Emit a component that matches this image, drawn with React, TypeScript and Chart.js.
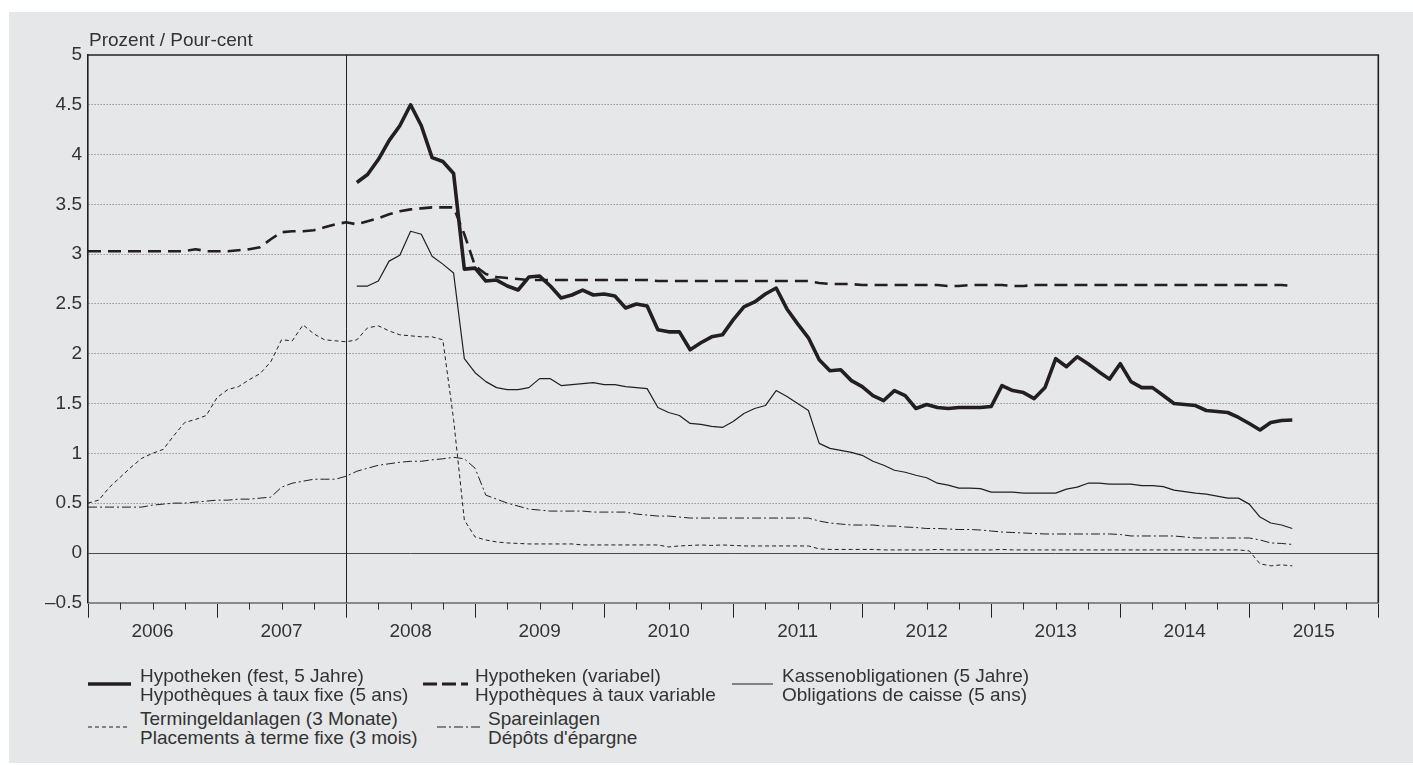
import React, { useEffect, useRef } from 'react';
import { Chart, registerables } from 'chart.js';

Chart.register(...registerables);

// ---- data (monthly, month index 0 = Jan 2006) ----
const firstYear = 2006;
const yearLabels = ['2006', '2007', '2008', '2009', '2010', '2011', '2012', '2013', '2014', '2015'];
const yTickValues = [-0.5, 0, 0.5, 1, 1.5, 2, 2.5, 3, 3.5, 4, 4.5, 5];

const festStart = 25; // Feb 2008
const fest = [
  3.72, 3.80, 3.95, 4.14, 4.29,
  4.50, 4.29, 3.97, 3.93, 3.81, 2.85, 2.86, 2.73, 2.74, 2.68,
  2.64, 2.77, 2.78, 2.68, 2.56, 2.59, 2.64, 2.59, 2.60, 2.58,
  2.46, 2.50, 2.48, 2.24, 2.22, 2.22, 2.04, 2.11, 2.17, 2.19,
  2.34, 2.47, 2.52, 2.60, 2.66, 2.45, 2.30, 2.16, 1.94, 1.83,
  1.84, 1.73, 1.67, 1.58, 1.53, 1.63, 1.58, 1.45, 1.49, 1.46,
  1.45, 1.46, 1.46, 1.46, 1.47, 1.68, 1.63, 1.61, 1.55, 1.66,
  1.95, 1.87, 1.97, 1.90, 1.82, 1.745, 1.90, 1.72, 1.66, 1.66,
  1.58, 1.50, 1.49, 1.48, 1.43, 1.42, 1.41, 1.36, 1.30, 1.235,
  1.31, 1.33, 1.335,
];

const variabelStart = 0;
const variabel = [
  3.03, 3.03, 3.03, 3.03, 3.03, 3.03, 3.03, 3.03, 3.03, 3.03,
  3.05, 3.03, 3.03, 3.03, 3.04, 3.05, 3.07, 3.15, 3.22, 3.23,
  3.23, 3.24, 3.27, 3.30, 3.32, 3.30, 3.33, 3.36, 3.40, 3.43,
  3.45, 3.46, 3.47, 3.47, 3.47, 3.20, 2.88, 2.80, 2.77, 2.76,
  2.75, 2.74, 2.74, 2.74, 2.74, 2.74, 2.74, 2.74, 2.74, 2.74,
  2.74, 2.74, 2.74, 2.73, 2.73, 2.73, 2.73, 2.73, 2.73, 2.73,
  2.73, 2.73, 2.73, 2.73, 2.73, 2.73, 2.73, 2.73, 2.71, 2.70,
  2.70, 2.70, 2.69, 2.69, 2.69, 2.69, 2.69, 2.69, 2.69, 2.69,
  2.68, 2.68, 2.69, 2.69, 2.69, 2.69, 2.68, 2.68, 2.69, 2.69,
  2.69, 2.69, 2.69, 2.69, 2.69, 2.69, 2.69, 2.69, 2.69, 2.69,
  2.69, 2.69, 2.69, 2.69, 2.69, 2.69, 2.69, 2.69, 2.69, 2.69,
  2.69, 2.69, 2.68,
];

const kassenStart = 25;
const kassen = [
  2.68, 2.68, 2.73, 2.93, 2.99,
  3.23, 3.20, 2.98, 2.90, 2.81, 1.95, 1.81, 1.72, 1.66, 1.64,
  1.64, 1.66, 1.75, 1.75, 1.68, 1.69, 1.70, 1.71, 1.69, 1.69,
  1.67, 1.66, 1.65, 1.46, 1.41, 1.38, 1.30, 1.29, 1.27, 1.26,
  1.32, 1.40, 1.45, 1.48, 1.63, 1.57, 1.50, 1.43, 1.10, 1.05,
  1.03, 1.01, 0.98, 0.92, 0.88, 0.83, 0.81, 0.78, 0.755, 0.70,
  0.68, 0.65, 0.65, 0.645, 0.61, 0.61, 0.61, 0.60, 0.60, 0.60,
  0.60, 0.64, 0.66, 0.70, 0.70, 0.69, 0.69, 0.69, 0.675, 0.675,
  0.665, 0.63, 0.615, 0.60, 0.59, 0.57, 0.55, 0.55, 0.49, 0.36,
  0.30, 0.28, 0.245,
];

const terminStart = 0;
const termin = [
  0.50, 0.53, 0.66, 0.76, 0.86, 0.95, 1.00, 1.04, 1.18, 1.31,
  1.34, 1.38, 1.56, 1.64, 1.67, 1.74, 1.80, 1.92, 2.14, 2.13,
  2.29, 2.20, 2.14, 2.13, 2.12, 2.14, 2.26, 2.28, 2.23, 2.19,
  2.18, 2.17, 2.17, 2.14, 1.34, 0.33, 0.16, 0.13, 0.11, 0.10,
  0.095, 0.09, 0.09, 0.09, 0.09, 0.09, 0.08, 0.08, 0.08, 0.08,
  0.08, 0.08, 0.08, 0.08, 0.06, 0.07, 0.075, 0.08, 0.075, 0.08,
  0.075, 0.07, 0.07, 0.07, 0.07, 0.07, 0.07, 0.07, 0.04, 0.035,
  0.035, 0.035, 0.035, 0.035, 0.03, 0.03, 0.03, 0.03, 0.03, 0.035,
  0.03, 0.03, 0.03, 0.03, 0.03, 0.035, 0.03, 0.03, 0.03, 0.03,
  0.03, 0.03, 0.03, 0.03, 0.03, 0.03, 0.03, 0.03, 0.03, 0.03,
  0.03, 0.03, 0.03, 0.03, 0.03, 0.03, 0.03, 0.03, 0.02, -0.11,
  -0.13, -0.12, -0.13,
];

const spareStart = 0;
const spare = [
  0.46, 0.46, 0.46, 0.46, 0.46, 0.46, 0.48, 0.49, 0.50, 0.50,
  0.51, 0.52, 0.53, 0.53, 0.54, 0.54, 0.55, 0.56, 0.66, 0.70,
  0.72, 0.74, 0.74, 0.74, 0.77, 0.82, 0.85, 0.88, 0.895, 0.91,
  0.92, 0.92, 0.935, 0.945, 0.96, 0.945, 0.85, 0.58, 0.54, 0.50,
  0.47, 0.44, 0.43, 0.42, 0.42, 0.42, 0.42, 0.41, 0.41, 0.41,
  0.41, 0.39, 0.38, 0.37, 0.37, 0.36, 0.35, 0.35, 0.35, 0.35,
  0.35, 0.35, 0.35, 0.35, 0.35, 0.35, 0.35, 0.35, 0.32, 0.30,
  0.29, 0.28, 0.28, 0.28, 0.27, 0.27, 0.26, 0.255, 0.245, 0.245,
  0.24, 0.235, 0.235, 0.23, 0.22, 0.21, 0.205, 0.20, 0.195, 0.19,
  0.19, 0.19, 0.19, 0.19, 0.19, 0.19, 0.185, 0.17, 0.17, 0.17,
  0.17, 0.17, 0.16, 0.15, 0.15, 0.15, 0.15, 0.15, 0.15, 0.13,
  0.10, 0.095, 0.085,
];

const seriesNames = [
  ['Hypotheken (fest, 5 Jahre)', 'Hypothèques à taux fixe (5 ans)'],
  ['Hypotheken (variabel)', 'Hypothèques à taux variable'],
  ['Kassenobligationen (5 Jahre)', 'Obligations de caisse (5 ans)'],
  ['Termingeldanlagen (3 Monate)', 'Placements à terme fixe (3 mois)'],
  ['Spareinlagen', "Dépôts d'épargne"],
];
const axisTitle = 'Prozent / Pour-cent';

// ---- styling ----
const INK = '#231f20';
const TEXT = '#333333';
const PANEL = '#e6e7e9';
const FONT = '"Liberation Sans", Arial, Helvetica, sans-serif';
const FONT_SIZE = 19;

const toPoints = (start: number, vals: number[]) => vals.map((v, i) => ({ x: start + i, y: v }));

const styles = [
  { width: 3.6, dash: [] as number[] },
  { width: 2.6, dash: [13, 7] },
  { width: 1.2, dash: [] as number[] },
  { width: 1, dash: [4, 3] },
  { width: 1, dash: [9, 3, 2, 3] },
];

const framePlugin = {
  id: 'frame',
  beforeDatasetsDraw(chart: any) {
    const { ctx, chartArea: a, scales } = chart;
    const x = scales.x;
    const y = scales.y;
    const line = (x1: number, y1: number, x2: number, y2: number) => {
      ctx.beginPath();
      ctx.moveTo(x1, y1);
      ctx.lineTo(x2, y2);
      ctx.stroke();
    };
    ctx.save();
    // zero line
    ctx.strokeStyle = '#4a4a4a';
    ctx.lineWidth = 1;
    const y0 = Math.round(y.getPixelForValue(0)) + 0.5;
    line(a.left, y0, a.right, y0);
    // top frame line
    ctx.strokeStyle = INK;
    ctx.lineWidth = 1.6;
    const yTop = y.getPixelForValue(5);
    const xr = x.getPixelForValue(120);
    line(a.left - 0.8, yTop, xr + 0.8, yTop);
    // right frame line
    line(xr, yTop, xr, a.bottom);
    // divider at 2008
    ctx.lineWidth = 1;
    const xd = Math.round(x.getPixelForValue(24)) + 0.5;
    line(xd, yTop, xd, a.bottom);
    // quarterly tick marks
    ctx.strokeStyle = '#333';
    for (let m = 3; m < 120; m += 3) {
      if (m % 12 === 0) continue;
      const px = Math.round(x.getPixelForValue(m)) + 0.5;
      line(px, a.bottom, px, a.bottom + 7);
    }
    ctx.restore();
  },
};

function ChartCanvas() {
  const ref = useRef<HTMLCanvasElement | null>(null);
  useEffect(() => {
    if (!ref.current) return;
    const datasets = [
      toPoints(festStart, fest),
      toPoints(variabelStart, variabel),
      toPoints(kassenStart, kassen),
      toPoints(terminStart, termin),
      toPoints(spareStart, spare),
    ].map((data, i) => ({
      label: seriesNames[i][0],
      data,
      borderColor: INK,
      backgroundColor: INK,
      borderWidth: styles[i].width,
      borderDash: styles[i].dash,
      pointRadius: 0,
      tension: 0,
      fill: false,
      borderJoinStyle: 'round' as const,
      borderCapStyle: 'butt' as const,
    }));

    const chart = new Chart(ref.current, {
      type: 'line',
      data: { datasets },
      plugins: [framePlugin],
      options: {
        animation: false,
        responsive: false,
        events: [],
        layout: { padding: { left: 0, top: 43, right: 34.7, bottom: 0 } },
        font: { family: FONT, size: FONT_SIZE },
        plugins: { legend: { display: false }, tooltip: { enabled: false }, title: { display: false } },
        scales: {
          x: {
            type: 'linear',
            min: 0,
            max: 120,
            afterBuildTicks: (scale: any) => {
              const t = [];
              for (let m = 0; m <= 120; m += 3) t.push({ value: m });
              scale.ticks = t;
            },
            afterFit: (scale: any) => {
              scale.height = 69.3;
            },
            ticks: {
              autoSkip: false,
              maxRotation: 0,
              minRotation: 0,
              padding: 3,
              color: TEXT,
              font: { family: FONT, size: FONT_SIZE },
              callback: (v: any) => {
                const m = Number(v);
                if (m % 12 !== 6) return '';
                return yearLabels[(m - 6) / 12] ?? String(firstYear + (m - 6) / 12);
              },
            },
            grid: {
              drawOnChartArea: false,
              drawTicks: true,
              tickLength: 15,
              tickWidth: 1,
              tickColor: (c: any) => (c.tick && c.tick.value % 12 === 0 ? '#222' : 'rgba(0,0,0,0)'),
            },
            border: { display: true, color: '#8a8a8a', width: 2 },
          },
          y: {
            type: 'linear',
            min: -0.5,
            max: 5,
            afterBuildTicks: (scale: any) => {
              scale.ticks = yTickValues.map((v) => ({ value: v }));
            },
            afterFit: (scale: any) => {
              scale.width = 79;
            },
            ticks: {
              padding: 6,
              color: TEXT,
              font: { family: FONT, size: FONT_SIZE },
              callback: (v: any) => {
                const n = Number(v);
                return n < 0 ? '\u2013' + String(Math.abs(n)) : String(n);
              },
            },
            grid: {
              drawTicks: false,
              lineWidth: 1,
              color: (c: any) => {
                const v = c.tick ? c.tick.value : null;
                return v === 0 || v === 5 || v === -0.5 ? 'rgba(0,0,0,0)' : '#707070';
              },
            },
            border: { display: true, color: INK, width: 1.6, dash: [1, 2] },
          },
        },
      },
    } as any);
    return () => chart.destroy();
  }, []);
  return (
    <canvas
      ref={ref}
      width={1404}
      height={660}
      style={{ position: 'absolute', left: 0, top: 0, width: 1404, height: 660 }}
    />
  );
}

function Sample({ x1, x2, y, i }: { x1: number; x2: number; y: number; i: number }) {
  const s = styles[i];
  return (
    <svg
      width={x2 - x1}
      height={10}
      style={{ position: 'absolute', left: x1, top: y - 5, overflow: 'visible' }}
    >
      <line
        x1={0}
        y1={5}
        x2={x2 - x1}
        y2={5}
        stroke={INK}
        strokeWidth={i === 1 ? 2.8 : s.width}
        strokeDasharray={i === 1 ? '14 5' : s.dash.join(' ') || undefined}
      />
    </svg>
  );
}

function LegendText({ left, top, i }: { left: number; top: number; i: number }) {
  return (
    <div
      style={{
        position: 'absolute',
        left,
        top,
        fontFamily: FONT,
        fontSize: FONT_SIZE,
        lineHeight: '19px',
        color: TEXT,
        whiteSpace: 'nowrap',
      }}
    >
      <div>{seriesNames[i][0]}</div>
      <div>{seriesNames[i][1]}</div>
    </div>
  );
}

// legend placement (panel coordinates)
const legendLayout = [
  { sx1: 79, sx2: 122, sy: 671.5, tx: 131, ty: 653.6 },
  { sx1: 414, sx2: 459, sy: 671.5, tx: 466, ty: 653.6 },
  { sx1: 723, sx2: 764, sy: 672, tx: 773, ty: 653.6 },
  { sx1: 79, sx2: 119, sy: 715, tx: 131, ty: 697 },
  { sx1: 428, sx2: 471, sy: 715, tx: 479, ty: 697 },
];

export default function App() {
  return (
    <div
      style={{
        position: 'absolute',
        left: 9,
        top: 12,
        width: 1404,
        height: 751,
        background: PANEL,
        overflow: 'hidden',
      }}
    >
      <ChartCanvas />
      <div
        style={{
          position: 'absolute',
          left: 80,
          top: 17.8,
          fontFamily: FONT,
          fontSize: FONT_SIZE,
          lineHeight: '19px',
          color: TEXT,
          whiteSpace: 'nowrap',
        }}
      >
        {axisTitle}
      </div>
      {legendLayout.map((l, i) => (
        <React.Fragment key={i}>
          <Sample x1={l.sx1} x2={l.sx2} y={l.sy} i={i} />
          <LegendText left={l.tx} top={l.ty} i={i} />
        </React.Fragment>
      ))}
    </div>
  );
}
